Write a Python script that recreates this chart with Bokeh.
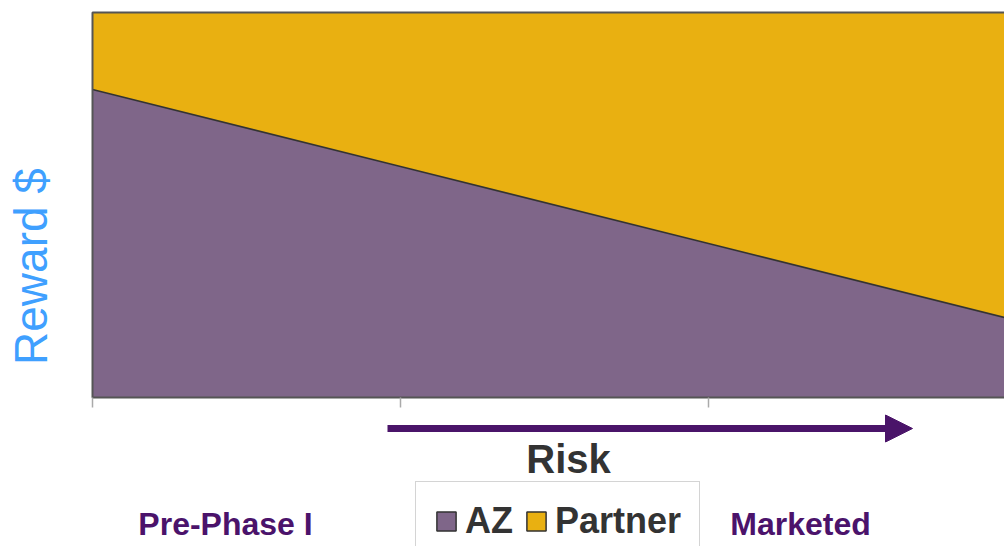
from bokeh.plotting import figure
from bokeh.models import (ColumnDataSource, Range1d, Label, Arrow, NormalHead,
                          Legend, LegendItem)
from bokeh.embed import file_html
from bokeh.resources import INLINE

# Development stages along the risk axis and the share of reward by party
stages = [0, 1, 2, 3]
az_share = [80, 60, 40, 20]
partner_share = [20, 40, 60, 80]
series_names = ["AZ", "Partner"]
series_colors = ["#7f6689", "#e9b011"]

FONT = "Liberation Sans"
PURPLE_TEXT = "#4b136b"

W, H = 1004, 546
LEFT, TOP, BOTTOM = 92, 12, 397      # pixel edges of the chart area
PX_X = 308                           # pixels per stage
PX_Y = (BOTTOM - TOP) / 100          # pixels per percent

source = ColumnDataSource(dict(x=stages, AZ=az_share, Partner=partner_share))

# the frame covers the whole canvas so annotations around the chart stay visible
p = figure(width=W, height=H, output_backend="svg", toolbar_location=None,
           x_range=Range1d(-LEFT / PX_X, (W - LEFT) / PX_X),
           y_range=Range1d(-(H - BOTTOM) / PX_Y, 100 + TOP / PX_Y),
           x_axis_type=None, y_axis_type=None,
           min_border=0)
p.outline_line_color = None
p.xgrid.visible = False
p.ygrid.visible = False
p.background_fill_color = "white"
p.border_fill_color = "white"

x_end = (W - LEFT) / PX_X

areas = p.varea_stack(series_names, x="x", color=series_colors, source=source)
p.line("x", "AZ", source=source, line_color="#333333", line_width=1.6)

# chart border (top, left, bottom)
p.line([x_end, 0, 0, x_end], [100, 100, 0, 0], line_color="#555555", line_width=2)

# tick marks under the stages
p.segment(x0=stages, y0=[0] * len(stages), x1=stages, y1=[-10 / PX_Y] * len(stages),
          line_color="#aaaaaa", line_width=1.5)

# risk arrow
p.add_layout(Arrow(x_start=(387 - LEFT) / PX_X, y_start=-31 / PX_Y,
                   x_end=(912 - LEFT) / PX_X, y_end=-31 / PX_Y,
                   line_color="#4a1469", line_width=7,
                   end=NormalHead(size=27, fill_color="#4a1469", line_color="#4a1469")))

p.add_layout(Label(x=(568 - LEFT) / PX_X, y=-61 / PX_Y, text="Risk", text_font=FONT,
                   text_font_size="40px", text_font_style="bold", text_color="#333333",
                   text_align="center", text_baseline="middle"))
p.add_layout(Label(x=(30 - LEFT) / PX_X, y=(BOTTOM - 266) / PX_Y, text="Reward $",
                   text_font=FONT, text_font_size="46px", text_color="#3fa0ff",
                   angle=90, angle_units="deg", text_align="center",
                   text_baseline="middle"))
p.add_layout(Label(x=(225 - LEFT) / PX_X, y=-126 / PX_Y, text="Pre-Phase I",
                   text_font=FONT, text_font_size="32px", text_font_style="bold",
                   text_color=PURPLE_TEXT, text_align="center", text_baseline="middle"))
p.add_layout(Label(x=(800 - LEFT) / PX_X, y=-126 / PX_Y, text="Marketed",
                   text_font=FONT, text_font_size="32px", text_font_style="bold",
                   text_color=PURPLE_TEXT, text_align="center", text_baseline="middle"))

# legend swatches: outlined bars, hidden from the chart itself
sw_az = p.vbar(x="x", top="AZ", width=0.5, source=source,
               fill_color=series_colors[0], line_color="#333333", line_width=1.5)
sw_pt = p.vbar(x="x", top="Partner", width=0.5, source=source,
               fill_color=series_colors[1], line_color="#333333", line_width=1.5)
sw_az.visible = False
sw_pt.visible = False

legend = Legend(items=[LegendItem(label=series_names[0], renderers=[sw_az]),
                       LegendItem(label=series_names[1], renderers=[sw_pt])],
                orientation="horizontal", location=(415, -15),
                label_text_font=FONT, label_text_font_size="36px",
                label_text_font_style="bold", label_text_color="#333333",
                glyph_width=24, glyph_height=24, label_standoff=7, spacing=11,
                padding=18, margin=0,
                border_line_color="#aaaaaa", border_line_width=1.5,
                background_fill_color="white", background_fill_alpha=1)
p.add_layout(legend)

open("out.html", "w").write(file_html(p, INLINE))
